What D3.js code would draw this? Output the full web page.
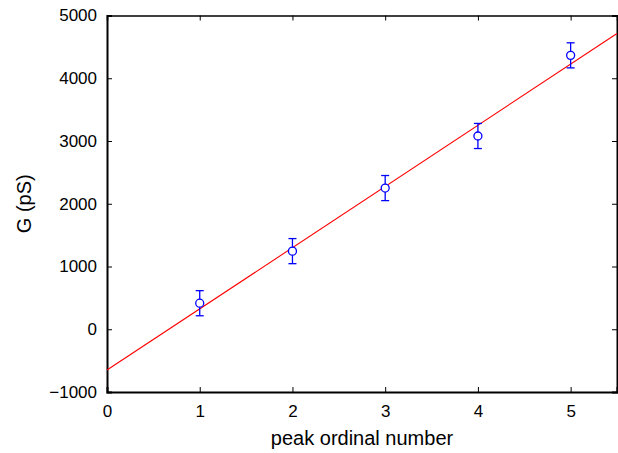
<!DOCTYPE html>
<html>
<head>
<meta charset="utf-8">
<script src="https://cdn.jsdelivr.net/npm/d3@7"></script>
<style>
  body { margin: 0; background: #fff; }
  svg { font-family: "Liberation Sans", Arial, sans-serif; }
</style>
</head>
<body>
<div id="chart"></div>
<script>
// measured peaks
const peakNumber = [1, 2, 3, 4, 5];
const conductance = [415, 1245, 2250, 3080, 4365];
const errorSize = [200, 200, 200, 200, 200];

// linear fit G = slope * n + intercept
const fitSlope = 975;
const fitIntercept = -650;

const xTicks = [0, 1, 2, 3, 4, 5];
const yTicks = [-1000, 0, 1000, 2000, 3000, 4000, 5000];

const width = 618, height = 453;
const margin = {top: 15.5, right: 1, bottom: 61, left: 107};

const svg = d3.select("#chart").append("svg")
  .attr("width", width)
  .attr("height", height);

const x = d3.scaleLinear().domain([0, 5.5]).range([margin.left, width - margin.right]);
const y = d3.scaleLinear().domain([-1000, 5000]).range([height - margin.bottom, margin.top]);

const fmt = d => d < 0 ? "\u2212" + Math.abs(d) : String(d);

// axes with inward ticks, mirrored on top/right
svg.append("g")
  .attr("transform", `translate(0,${y(-1000)})`)
  .call(d3.axisBottom(x).tickValues(xTicks).tickSize(-5).tickPadding(13).tickFormat(fmt))
  .call(g => g.select(".domain").attr("stroke-width", 2));

svg.append("g")
  .attr("transform", `translate(0,${y(5000)})`)
  .call(d3.axisTop(x).tickValues(xTicks).tickSize(-5).tickFormat(""))
  .call(g => g.select(".domain").attr("stroke-width", 1.5));

svg.append("g")
  .attr("transform", `translate(${x(0)},0)`)
  .call(d3.axisLeft(y).tickValues(yTicks).tickSize(-5).tickPadding(10).tickFormat(fmt))
  .call(g => g.select(".domain").attr("stroke-width", 2));

svg.append("g")
  .attr("transform", `translate(${x(5.5)},0)`)
  .call(d3.axisRight(y).tickValues(yTicks).tickSize(-5).tickFormat(""))
  .call(g => g.select(".domain").attr("stroke-width", 2));

svg.selectAll(".tick text")
  .attr("font-size", 17)
  .attr("font-family", "Liberation Sans, Arial, sans-serif")
  .attr("fill", "#000");
svg.selectAll(".domain").attr("stroke", "#000");
svg.selectAll(".tick line").attr("stroke", "#000");

// fit line
const plot = svg.append("g");
plot.append("line")
  .attr("x1", x(0)).attr("y1", y(fitIntercept))
  .attr("x2", x(5.5)).attr("y2", y(fitSlope * 5.5 + fitIntercept))
  .attr("stroke", "#ff0000")
  .attr("stroke-width", 1.1);

// error bars
const pts = peakNumber.map((n, i) => ({n, g: conductance[i], e: errorSize[i]}));
const bars = plot.selectAll(".err").data(pts).enter().append("g").attr("class", "err")
  .attr("stroke", "#0000ff").attr("stroke-width", 1.3).attr("fill", "none");
bars.append("line")
  .attr("x1", d => x(d.n)).attr("x2", d => x(d.n))
  .attr("y1", d => y(d.g - d.e)).attr("y2", d => y(d.g + d.e));
bars.append("line")
  .attr("x1", d => x(d.n) - 4).attr("x2", d => x(d.n) + 4)
  .attr("y1", d => y(d.g + d.e)).attr("y2", d => y(d.g + d.e));
bars.append("line")
  .attr("x1", d => x(d.n) - 4).attr("x2", d => x(d.n) + 4)
  .attr("y1", d => y(d.g - d.e)).attr("y2", d => y(d.g - d.e));
bars.append("circle")
  .attr("cx", d => x(d.n)).attr("cy", d => y(d.g))
  .attr("r", 4).attr("fill", "#fff");

// axis labels
svg.append("text")
  .attr("x", (x(0) + x(5.5)) / 2)
  .attr("y", 445)
  .attr("text-anchor", "middle")
  .attr("font-size", 20)
  .text("peak ordinal number");

svg.append("text")
  .attr("transform", `translate(31,${(y(-1000) + y(5000)) / 2}) rotate(-90)`)
  .attr("text-anchor", "middle")
  .attr("font-size", 20)
  .text("G (pS)");
</script>
</body>
</html>
